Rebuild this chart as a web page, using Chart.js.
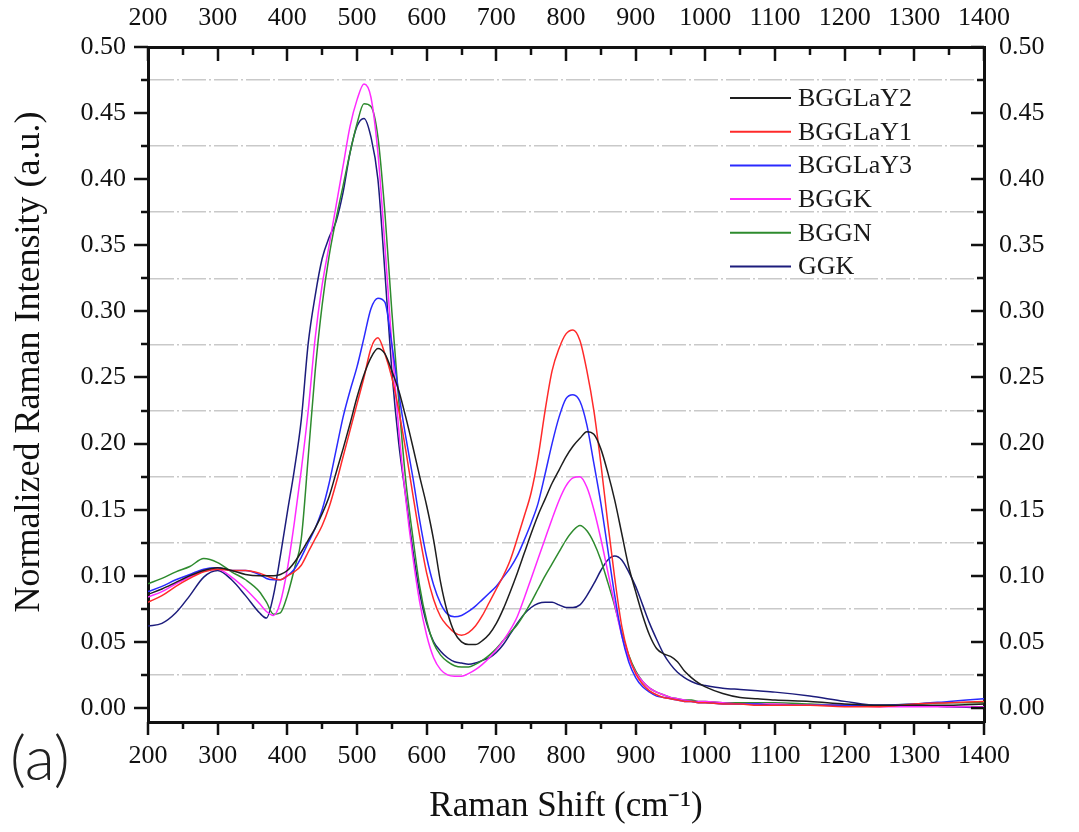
<!DOCTYPE html>
<html><head><meta charset="utf-8">
<script src="https://cdn.jsdelivr.net/npm/chart.js@4.4.1/dist/chart.umd.min.js"></script>
<style>html,body{margin:0;padding:0;background:#fff}#wrap{width:1079px;height:832px;position:relative}</style>
</head><body><div id="wrap"><canvas id="c"></canvas></div>
<script>
const ramanShift = [200,220,240,260,280,300,320,340,360,370,380,390,400,410,420,430,440,450,460,470,480,490,500,510,520,530,540,550,560,570,580,590,600,610,620,630,640,650,660,670,680,690,700,710,720,730,740,750,760,770,780,790,800,810,820,830,840,850,860,870,880,890,900,910,920,930,940,950,960,970,980,990,1000,1025,1050,1075,1100,1150,1200,1250,1300,1350,1400];

const bgglay2 = [.086,.090,.095,.100,.104,.106,.104,.101,.100,.100,.100,.101,.104,.110,.118,.127,.136,.147,.160,.178,.196,.215,.235,.252,.265,.272,.268,.255,.240,.220,.198,.175,.153,.127,.095,.072,.057,.050,.048,.048,.051,.056,.064,.075,.088,.102,.117,.132,.146,.158,.170,.180,.190,.198,.204,.209,.207,.196,.178,.157,.132,.107,.088,.070,.055,.045,.041,.039,.035,.028,.023,.019,.016,.011,.008,.007,.006,.005,.003,.002,.002,.002,.003];

const bgglay1 = [.080,.085,.092,.098,.103,.105,.104,.104,.102,.100,.098,.097,.100,.103,.108,.118,.128,.138,.152,.170,.190,.210,.230,.250,.272,.280,.268,.250,.225,.195,.162,.130,.102,.082,.069,.062,.057,.055,.057,.062,.070,.080,.090,.100,.112,.128,.145,.163,.190,.225,.255,.272,.283,.286,.278,.255,.225,.185,.140,.098,.062,.040,.026,.018,.013,.010,.008,.007,.006,.005,.005,.004,.004,.003,.003,.002,.002,.002,.001,.001,.003,.004,.005];

const bgglay3 = [.088,.092,.097,.101,.105,.106,.104,.104,.101,.098,.097,.097,.100,.105,.114,.125,.136,.150,.170,.195,.220,.240,.258,.280,.302,.310,.307,.275,.238,.205,.175,.142,.114,.093,.079,.071,.069,.070,.073,.077,.082,.087,.092,.099,.106,.115,.127,.140,.155,.177,.200,.220,.234,.237,.232,.214,.185,.155,.120,.085,.055,.035,.023,.016,.012,.009,.008,.007,.006,.005,.005,.004,.004,.003,.003,.003,.002,.002,.002,.002,.003,.005,.007];

const bggk = [.084,.088,.094,.099,.104,.105,.099,.090,.079,.073,.070,.080,.105,.140,.180,.225,.280,.320,.350,.380,.410,.440,.460,.472,.462,.420,.350,.275,.210,.158,.115,.080,.055,.038,.029,.025,.024,.024,.026,.029,.033,.038,.044,.051,.059,.069,.083,.098,.113,.128,.143,.157,.168,.174,.175,.167,.150,.128,.103,.078,.055,.038,.027,.020,.015,.012,.010,.008,.007,.006,.005,.005,.005,.004,.003,.003,.003,.002,.002,.001,.001,.001,.001];

const bggn = [.094,.098,.103,.107,.113,.110,.103,.097,.088,.080,.071,.072,.085,.105,.128,.190,.255,.305,.342,.370,.395,.420,.442,.457,.455,.432,.375,.300,.232,.172,.130,.092,.066,.049,.040,.035,.032,.031,.031,.033,.036,.040,.045,.051,.057,.063,.071,.080,.090,.100,.109,.118,.127,.134,.138,.134,.125,.112,.095,.077,.057,.040,.028,.020,.015,.012,.010,.008,.007,.006,.006,.005,.005,.004,.004,.004,.004,.003,.002,.002,.003,.004,.004];

const ggk = [.062,.064,.072,.085,.099,.104,.097,.085,.072,.068,.085,.115,.148,.180,.218,.276,.312,.340,.356,.368,.390,.420,.440,.446,.432,.400,.330,.255,.200,.160,.120,.087,.064,.050,.043,.038,.035,.034,.033,.034,.036,.038,.042,.048,.056,.064,.071,.076,.079,.080,.080,.078,.076,.076,.078,.085,.094,.104,.112,.115,.112,.103,.092,.078,.064,.052,.041,.033,.027,.023,.020,.018,.017,.015,.014,.013,.012,.009,.005,.002,.002,.001,.000];

const seriesNames = ['BGGLaY2','BGGLaY1','BGGLaY3','BGGK','BGGN','GGK'];
const seriesColors = ['#1e1e1e','#ff2a2a','#2a2aff','#ff2aff','#2e8b2e','#1c1c7c'];
const seriesValues = [bgglay2, bgglay1, bgglay3, bggk, bggn, ggk];

const xMajorTicks = [200,300,400,500,600,700,800,900,1000,1100,1200,1300,1400];
const xMinorTicks = [250,350,450,550,650,750,850,950,1050,1150,1250,1350];
const yMajorTicks = [0,0.05,0.10,0.15,0.20,0.25,0.30,0.35,0.40,0.45,0.50];
const yMinorTicks = [0.025,0.075,0.125,0.175,0.225,0.275,0.325,0.375,0.425,0.475];

const xTitle = 'Raman Shift (cm\u207B\u00B9)';
const yTitle = 'Normalized Raman Intensity (a.u.)';
const panelLabel = '(a)';

Chart.defaults.font.family = "'Liberation Serif', 'Times New Roman', serif";
Chart.defaults.color = '#111';

const datasets = seriesNames.map((name, i) => ({
  label: name,
  data: ramanShift.map((x, j) => ({x: x, y: seriesValues[i][j]})),
  borderColor: seriesColors[i],
  backgroundColor: seriesColors[i],
  borderWidth: 1.5,
  pointRadius: 0,
  cubicInterpolationMode: 'monotone',
  fill: false
}));

const yGrid = yMajorTicks.concat(yMinorTicks).sort((a,b)=>a-b);
const isMinorY = v => yMinorTicks.some(m => Math.abs(m - v) < 1e-6);
const fmtY = v => yMajorTicks.some(m => Math.abs(m - v) < 1e-6) ? v.toFixed(2) : '';

const framePlugin = {
  id: 'frame',
  afterDraw(chart) {
    const {ctx, chartArea: a, scales} = chart;
    const sx = scales.x, sy = scales.y;
    ctx.save();
    ctx.strokeStyle = '#111';
    ctx.lineWidth = 2.5;
    const seg = (x1,y1,x2,y2) => {ctx.beginPath(); ctx.moveTo(x1,y1); ctx.lineTo(x2,y2); ctx.stroke();};
    xMajorTicks.forEach(v => { const p = Math.round(sx.getPixelForValue(v)); seg(p, a.bottom, p, a.bottom + 13); seg(p, a.top, p, a.top + 14); });
    xMinorTicks.forEach(v => { const p = Math.round(sx.getPixelForValue(v)); seg(p, a.bottom, p, a.bottom + 7); seg(p, a.top, p, a.top + 8); });
    yMajorTicks.forEach(v => { const p = Math.round(sy.getPixelForValue(v)); seg(a.left, p, a.left - 14, p); seg(a.right, p, a.right - 13, p); });
    yMinorTicks.forEach(v => { const p = Math.round(sy.getPixelForValue(v)); seg(a.left, p, a.left - 7, p); seg(a.right, p, a.right - 7, p); });
    // legend
    ctx.font = "26px 'Liberation Serif'";
    ctx.textBaseline = 'middle';
    ctx.textAlign = 'left';
    chart.data.datasets.forEach((d, i) => {
      const y = 98 + i * 33.7;
      ctx.strokeStyle = d.borderColor;
      ctx.lineWidth = 2;
      seg(730, y, 791, y);
      ctx.fillStyle = '#1a1a1a';
      ctx.fillText(d.label, 798, y + 1);
    });
    // panel label
    ctx.font = "300 62px Lato, 'Liberation Sans', sans-serif";
    ctx.fillStyle = '#222';
    ctx.fillText(panelLabel, 10, 760);
    ctx.restore();
  }
};

new Chart(document.getElementById('c'), {
  type: 'line',
  data: { datasets },
  plugins: [framePlugin],
  options: {
    responsive: true,
    maintainAspectRatio: false,
    animation: false,
    layout: { padding: 0 },
    plugins: { legend: { display: false }, tooltip: { enabled: false } },
    scales: {
      x: {
        type: 'linear', position: 'bottom', min: 200, max: 1400,
        afterBuildTicks: s => { s.ticks = xMajorTicks.map(v => ({value: v})); },
        afterFit: s => { s.height = 110; },
        ticks: { autoSkip: false, maxRotation: 0, padding: 19, font: {size: 26}, color: '#111', callback: v => String(v) },
        grid: { drawOnChartArea: false, drawTicks: false },
        border: { display: true, width: 3, color: '#111' },
        title: { display: true, text: xTitle, font: {size: 35}, color: '#111', padding: {top: 0, bottom: 4} }
      },
      x2: {
        type: 'linear', position: 'top', min: 200, max: 1400,
        afterBuildTicks: s => { s.ticks = xMajorTicks.map(v => ({value: v})); },
        afterFit: s => { s.height = 47; },
        ticks: { autoSkip: false, maxRotation: 0, padding: 13, font: {size: 26}, color: '#111', callback: v => String(v) },
        grid: { drawOnChartArea: false, drawTicks: false },
        border: { display: true, width: 3, color: '#111' }
      },
      y: {
        type: 'linear', position: 'left', min: -0.0106, max: 0.5,
        afterBuildTicks: s => { s.ticks = yGrid.map(v => ({value: v})); },
        afterFit: s => { s.width = 148; },
        ticks: { autoSkip: false, padding: 22, font: {size: 26}, color: '#111', callback: v => fmtY(v) },
        grid: {
          drawOnChartArea: true, drawTicks: false, lineWidth: 1.6,
          color: c => (c.tick && isMinorY(c.tick.value)) ? '#c9c9c9' : 'rgba(0,0,0,0)'
        },
        border: { display: true, width: 3, color: '#111' , dash: [24, 3, 2, 3] },
        title: { display: true, text: '     ' + yTitle, font: {size: 36}, color: '#111', padding: {top: 8, bottom: 0} }
      },
      y2: {
        type: 'linear', position: 'right', min: -0.0106, max: 0.5,
        afterBuildTicks: s => { s.ticks = yMajorTicks.map(v => ({value: v})); },
        afterFit: s => { s.width = 95; },
        ticks: { autoSkip: false, padding: 15, font: {size: 26}, color: '#111', callback: v => v.toFixed(2) },
        grid: { drawOnChartArea: false, drawTicks: false },
        border: { display: true, width: 3, color: '#111' }
      }
    }
  }
});
</script>
</body></html>
